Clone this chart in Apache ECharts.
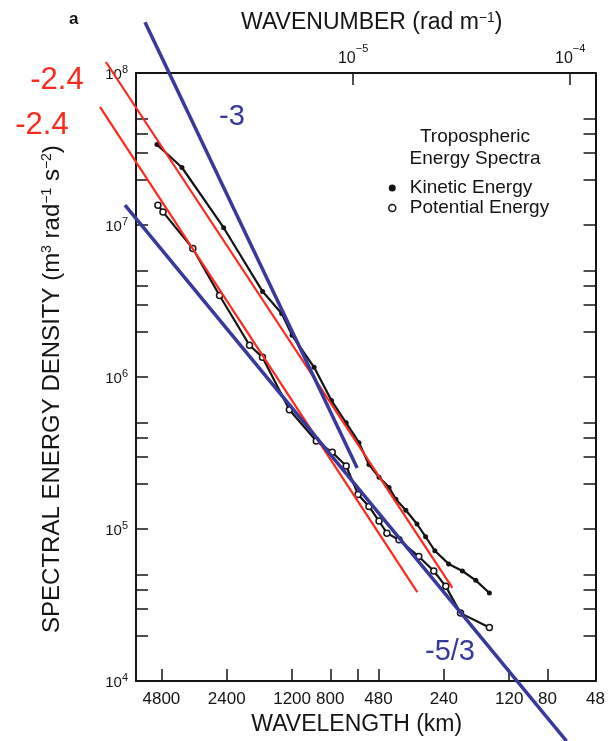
<!DOCTYPE html>
<html>
<head>
<meta charset="utf-8">
<script src="https://cdn.jsdelivr.net/npm/echarts@6/dist/echarts.min.js"></script>
<style>
  html, body { margin: 0; padding: 0; background: #ffffff; }
  #chart { width: 608px; height: 741px; }
</style>
</head>
<body>
<div id="chart"></div>
<script>
// Tropospheric energy spectra: wavelength (km) and spectral energy density (m^3 rad^-1 s^-2)
const kineticWavelengthKm = [5030, 3860, 2480, 1640, 1340, 1200, 950, 790, 676, 590, 531, 477, 429, 399, 359, 319, 291, 264, 228, 197, 171, 148];
const kineticDensity      = [3.38e7, 2.39e7, 9.6e6, 3.65e6, 2.62e6, 1.88e6, 1.16e6, 7.0e5, 5.0e5, 3.7e5, 2.66e5, 2.19e5, 1.88e5, 1.57e5, 1.33e5, 1.08e5, 8.9e4, 7.2e4, 5.9e4, 5.3e4, 4.6e4, 3.8e4];

const potentialWavelengthKm = [4980, 4720, 3440, 2590, 1885, 1643, 1235, 928, 784, 676, 596, 531, 477, 439, 386, 313, 267, 235, 201, 148];
const potentialDensity      = [1.35e7, 1.22e7, 7.0e6, 3.44e6, 1.62e6, 1.35e6, 6.1e5, 3.8e5, 3.2e5, 2.6e5, 1.69e5, 1.41e5, 1.13e5, 9.4e4, 8.5e4, 6.6e4, 5.3e4, 4.2e4, 2.8e4, 2.25e4];

// Axis ticks and labels
const wavelengthTicksKm  = [4800, 2400, 1200, 800, 600, 480, 240, 120, 80];
const wavelengthLabelsKm = [4800, 2400, 1200, 800, 480, 240, 120, 80, 48];
const wavenumberTicks    = [1e-6, 1e-5, 1e-4];
const wavenumberLabels   = [1e-5, 1e-4];
const densityDecades     = [1e4, 1e5, 1e6, 1e7, 1e8];
const densityMinorSteps  = [2, 3, 4, 5];

// Power-law guide lines, endpoints as [wavelength km, density]
const guideRedUpper  = [[8630, 1.18e8], [223, 4.31e4]];
const guideRedLower  = [[9190, 6.0e7], [323, 4.05e4]];
const guideBlueSteep = [[5713, 2.15e8], [609, 2.62e5]];
const guideBlueFlat  = [[7058, 1.37e7], [66.9, 4.3e3]];

const toWavenumber = km => 2 * Math.PI / (km * 1000);
const toWavelength = k => 2 * Math.PI / k / 1000;

const densityTicks = [];
densityDecades.forEach((d, i) => {
  densityTicks.push(d);
  if (i < densityDecades.length - 1) densityMinorSteps.forEach(s => densityTicks.push(d * s));
});

const ink = '#141414';
const red = '#fb2a1e';
const blue = '#38399b';
const font = '"Liberation Sans", Arial, Helvetica, sans-serif';

const pairs = (xs, ys) => xs.map((km, i) => [toWavenumber(km), ys[i]]);
const guide = pts => pts.map(p => [toWavenumber(p[0]), p[1]]);

// Plot frame (px) and wavenumber range
const frame = { left: 136, right: 10, top: 73, bottom: 56 };
const chartWidth = 608;
const xMin = 1e-6;
const xMax = toWavenumber(48);

// The guide lines run past the left edge of the frame, so they live on an
// invisible companion grid that starts at the canvas edge with the same scale.
const pxPerDecade = (chartWidth - frame.left - frame.right) / (Math.log10(xMax) - Math.log10(xMin));
const xMinWide = Math.pow(10, Math.log10(xMin) - frame.left / pxPerDecade);

const boxLine = { show: true, lineStyle: { color: ink, width: 2 } };
const tickStyle = { color: ink, width: 1.5 };
const hiddenAxis = { show: false, axisLine: { show: false }, axisTick: { show: false }, axisLabel: { show: false }, splitLine: { show: false } };

const chart = echarts.init(document.getElementById('chart'), null, { renderer: 'canvas' });

chart.setOption({
  animation: false,
  backgroundColor: '#ffffff',
  textStyle: { fontFamily: font, color: ink },
  title: [
    { text: 'a', left: 64, top: 6, textStyle: { fontFamily: font, fontSize: 17, fontWeight: 'bold', color: ink } },
    { text: 'Tropospheric\nEnergy Spectra', left: 470, top: 121, textAlign: 'center',
      textStyle: { fontFamily: font, fontSize: 19, fontWeight: 'normal', color: ink, lineHeight: 22 } }
  ],
  legend: {
    orient: 'vertical',
    left: 383,
    top: 173,
    itemWidth: 7,
    itemHeight: 7,
    itemGap: 0,
    textStyle: { fontFamily: font, fontSize: 19, lineHeight: 20, color: ink, padding: [0, 0, 0, 9] },
    data: [
      { name: 'Kinetic Energy', icon: 'circle', itemStyle: { color: ink, borderWidth: 0 } },
      { name: 'Potential Energy', icon: 'circle', itemStyle: { color: '#ffffff', borderColor: ink, borderWidth: 1.5 } }
    ]
  },
  grid: [
    Object.assign({ containLabel: false }, frame),
    { left: 0, right: frame.right, top: frame.top, bottom: frame.bottom, containLabel: false }
  ],
  xAxis: [
    {
      type: 'log', logBase: 10, min: xMin, max: xMax, position: 'bottom', gridIndex: 0,
      axisLine: boxLine,
      axisTick: { show: true, inside: true, length: 12, lineStyle: tickStyle, customValues: wavelengthTicksKm.map(toWavenumber) },
      axisLabel: { show: true, margin: 10, fontSize: 17, color: ink, fontFamily: font,
        customValues: wavelengthLabelsKm.map(toWavenumber),
        formatter: v => String(Math.round(toWavelength(v))) },
      splitLine: { show: false }, minorTick: { show: false },
      name: 'WAVELENGTH (km)', nameLocation: 'middle', nameGap: 23,
      nameTextStyle: { fontFamily: font, fontSize: 23, color: ink, padding: [0, 18, 0, 0] }
    },
    {
      type: 'log', logBase: 10, min: xMin, max: xMax, position: 'top', gridIndex: 0,
      axisLine: boxLine,
      axisTick: { show: true, inside: true, length: 12, lineStyle: tickStyle, customValues: wavenumberTicks },
      axisLabel: { show: true, margin: 6, color: ink, fontFamily: font,
        customValues: wavenumberLabels,
        formatter: v => '{b|10}{s|\u2212' + Math.round(-Math.log10(v)) + '}',
        rich: {
          b: { fontSize: 16, lineHeight: 24, color: ink, fontFamily: font, verticalAlign: 'bottom' },
          s: { fontSize: 11, color: ink, fontFamily: font, verticalAlign: 'top' }
        } },
      splitLine: { show: false },
      name: 'WAVENUMBER (rad m{s|\u22121})', nameLocation: 'middle', nameGap: 39,
      nameTextStyle: { fontFamily: font, fontSize: 23, color: ink, padding: [0, 0, 0, 12],
        rich: { s: { fontSize: 14, color: ink, fontFamily: font, verticalAlign: 'top' } } }
    },
    Object.assign({ type: 'log', logBase: 10, min: xMinWide, max: xMax, gridIndex: 1 }, hiddenAxis)
  ],
  yAxis: [
    {
      type: 'log', logBase: 10, min: 1e4, max: 1e8, position: 'left', gridIndex: 0,
      axisLine: boxLine,
      axisTick: { show: true, inside: true, length: 12, lineStyle: tickStyle, customValues: densityTicks },
      axisLabel: { show: true, margin: 8, color: ink, fontFamily: font,
        customValues: densityDecades,
        formatter: v => '{b|10}{s|' + Math.round(Math.log10(v)) + '}',
        rich: {
          b: { fontSize: 15, lineHeight: 18, color: ink, fontFamily: font, verticalAlign: 'bottom' },
          s: { fontSize: 11, color: ink, fontFamily: font, verticalAlign: 'top' }
        } },
      splitLine: { show: false }, minorTick: { show: false },
      name: 'SPECTRAL ENERGY DENSITY (m{s|3} rad{s|\u22121} s{s|\u22122})', nameLocation: 'middle', nameGap: 72, nameRotate: 90,
      nameTextStyle: { fontFamily: font, fontSize: 24, color: ink, padding: [0, 24, 0, 0],
        rich: { s: { fontSize: 14, color: ink, fontFamily: font, verticalAlign: 'top' } } }
    },
    {
      type: 'log', logBase: 10, min: 1e4, max: 1e8, position: 'right', gridIndex: 0,
      axisLine: boxLine,
      axisTick: { show: true, inside: true, length: 12, lineStyle: tickStyle, customValues: densityTicks },
      axisLabel: { show: false },
      splitLine: { show: false }
    },
    Object.assign({ type: 'log', logBase: 10, min: 1e4, max: 1e8, gridIndex: 1 }, hiddenAxis)
  ],
  series: [
    {
      name: 'Kinetic Energy', type: 'line', xAxisIndex: 0, yAxisIndex: 0,
      data: pairs(kineticWavelengthKm, kineticDensity),
      symbol: 'circle', symbolSize: 5, showSymbol: true,
      lineStyle: { color: ink, width: 2.2 },
      itemStyle: { color: ink, borderWidth: 0 },
      z: 2
    },
    {
      name: 'Potential Energy', type: 'line', xAxisIndex: 0, yAxisIndex: 0,
      data: pairs(potentialWavelengthKm, potentialDensity),
      symbol: 'circle', symbolSize: 6, showSymbol: true,
      lineStyle: { color: ink, width: 2.2 },
      itemStyle: { color: '#ffffff', borderColor: ink, borderWidth: 1.5 },
      z: 2
    },
    { type: 'line', xAxisIndex: 2, yAxisIndex: 2, data: guide(guideRedUpper), clip: false, symbol: 'none', silent: true, lineStyle: { color: red, width: 2.2 }, z: 4 },
    { type: 'line', xAxisIndex: 2, yAxisIndex: 2, data: guide(guideRedLower), clip: false, symbol: 'none', silent: true, lineStyle: { color: red, width: 2.2 }, z: 4 },
    { type: 'line', xAxisIndex: 2, yAxisIndex: 2, data: guide(guideBlueSteep), clip: false, symbol: 'none', silent: true, lineStyle: { color: blue, width: 3.5 }, z: 5 },
    { type: 'line', xAxisIndex: 2, yAxisIndex: 2, data: guide(guideBlueFlat), clip: false, symbol: 'none', silent: true, lineStyle: { color: blue, width: 3.5 }, z: 5 }
  ],
  graphic: [
    { type: 'text', x: 57, y: 80, style: { text: '-2.4', fill: red, font: '31px ' + font, textAlign: 'center', textVerticalAlign: 'middle' } },
    { type: 'text', x: 42, y: 125, style: { text: '-2.4', fill: red, font: '31px ' + font, textAlign: 'center', textVerticalAlign: 'middle' } },
    { type: 'text', x: 232, y: 117, style: { text: '-3', fill: blue, font: '29px ' + font, textAlign: 'center', textVerticalAlign: 'middle' } },
    { type: 'text', x: 450, y: 652, style: { text: '-5/3', fill: blue, font: '29px ' + font, textAlign: 'center', textVerticalAlign: 'middle' } }
  ]
});
</script>
</body>
</html>
